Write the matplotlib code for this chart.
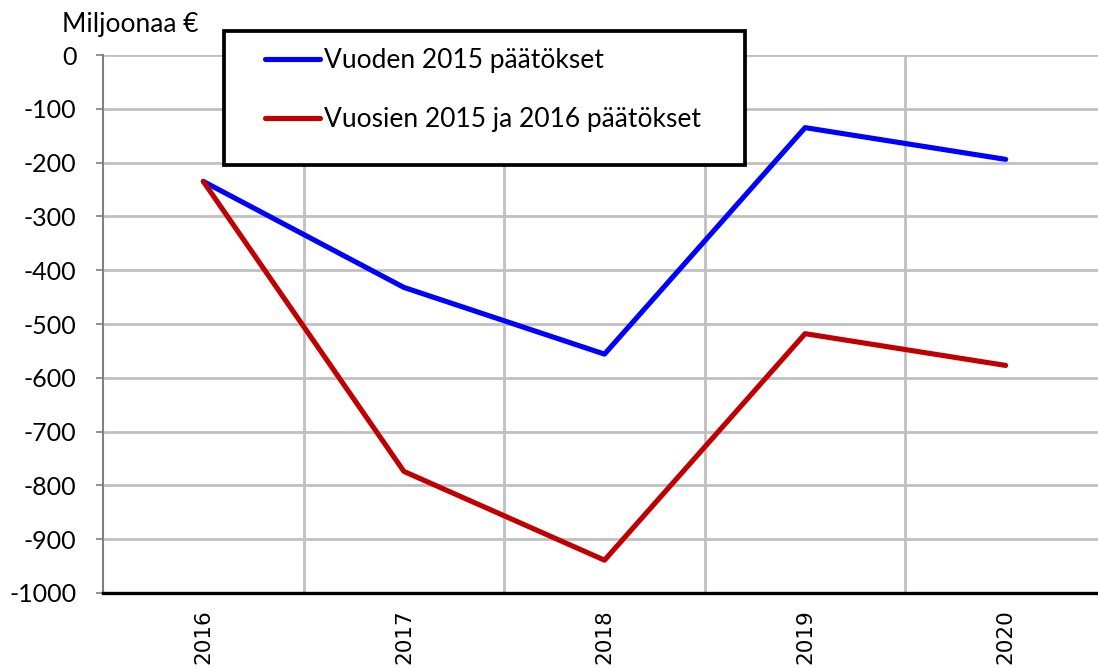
import matplotlib
matplotlib.use("Agg")
import matplotlib.pyplot as plt
from matplotlib.patches import Rectangle
import numpy as np

# data
years = ["2016", "2017", "2018", "2019", "2020"]
vuoden_2015 = [-235, -432, -556, -135, -194]
vuosien_2015_2016 = [-235, -774, -939, -518, -577]
yticks = list(range(-1000, 1, 100))

W, H = 1098, 669
fig = plt.figure(figsize=(W / 100, H / 100), dpi=100)
# plot area runs a little past the right edge of the picture, as in the original
ax = fig.add_axes([103 / W, 1 - 593 / H, (1106 - 103) / W, (593 - 55) / H])

x = np.arange(len(years))
ax.plot(x, vuoden_2015, color="#0000FF", lw=3.7, solid_capstyle="round",
        label="Vuoden 2015 päätökset", zorder=3)
ax.plot(x, vuosien_2015_2016, color="#C00000", lw=3.7, solid_capstyle="round",
        label="Vuosien 2015 ja 2016 päätökset", zorder=3)

ax.set_xlim(-0.5, len(years) - 0.5)
ax.set_ylim(-1000, 0)

# y axis
ax.set_yticks(yticks)
ax.set_yticklabels([str(v) for v in yticks], family="Lato", fontsize=18)
ax.tick_params(axis="y", length=5, width=1.2, color="#808080", pad=14)
ax.yaxis.grid(True, color="#C0C0C0", lw=2)

# x axis: labels in centre, gridlines on category borders
ax.set_xticks(x)
ax.set_xticklabels(years, rotation=90, family="DejaVu Sans", fontsize=15.5,
                   va="top")
ax.set_xticks(np.arange(0.5, len(years) - 1, 1.0), minor=True)
ax.tick_params(axis="x", which="both", length=0, pad=12)
ax.xaxis.grid(True, which="minor", color="#C0C0C0", lw=2)
ax.set_axisbelow(True)

for s in ["top", "right"]:
    ax.spines[s].set_visible(False)
ax.spines["left"].set_color("#808080")
ax.spines["left"].set_linewidth(1.5)
ax.spines["bottom"].set_color("black")
ax.spines["bottom"].set_linewidth(2.4)
ax.spines["bottom"].set_zorder(4)

fig.text(62 / W, 1 - 12 / H, "Miljoonaa €", family="Lato", fontsize=19,
         ha="left", va="top")

# legend box
fig.patches.append(Rectangle((224 / W, 1 - 165 / H), (745 - 224) / W, (165 - 31) / H,
                             transform=fig.transFigure, facecolor="white",
                             edgecolor="black", lw=2.7, zorder=2))
h, l = ax.get_legend_handles_labels()
leg = fig.legend(h, l, loc="upper left", bbox_to_anchor=(265 / W, 1 - 48 / H),
                 frameon=False, prop={"family": "Lato", "size": 19},
                 handlelength=2.1, handletextpad=0.12, borderpad=0,
                 borderaxespad=0, labelspacing=1.3)
leg.set_zorder(5)

fig.savefig("out.png", dpi=100)
